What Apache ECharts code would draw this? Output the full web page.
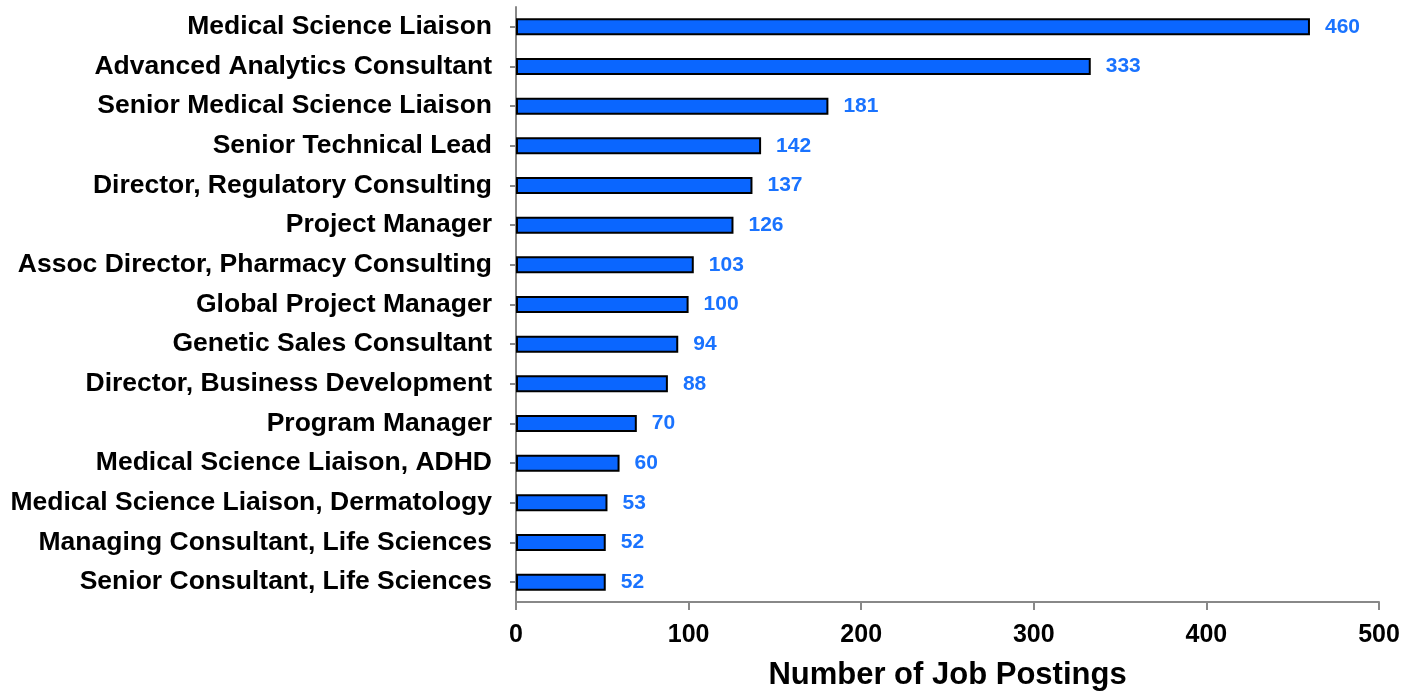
<!DOCTYPE html>
<html lang="en">
<head>
    <meta charset="UTF-8">
    <title>Job Postings</title>
    <style>
        html, body { margin: 0; padding: 0; width: 100%; height: 100%; background: #fff; }
        #chart { width: 1417px; height: 692px; }
    </style>
</head>
<body>
<div id="chart"></div>
<script src="https://cdn.jsdelivr.net/npm/echarts@6/dist/echarts.min.js"></script>
<script type="text/javascript">
    var jobTitles = [
        'Medical Science Liaison',
        'Advanced Analytics Consultant',
        'Senior Medical Science Liaison',
        'Senior Technical Lead',
        'Director, Regulatory Consulting',
        'Project Manager',
        'Assoc Director, Pharmacy Consulting',
        'Global Project Manager',
        'Genetic Sales Consultant',
        'Director, Business Development',
        'Program Manager',
        'Medical Science Liaison, ADHD',
        'Medical Science Liaison, Dermatology',
        'Managing Consultant, Life Sciences',
        'Senior Consultant, Life Sciences'
    ];
    var postings = [460, 333, 181, 142, 137, 126, 103, 100, 94, 88, 70, 60, 53, 52, 52];
    var xTicks = [0, 100, 200, 300, 400, 500];

    var font = '"Liberation Sans", Arial, sans-serif';
    var myChart = echarts.init(document.getElementById('chart'));
    var option = {
        backgroundColor: '#fff',
        animation: false,
        grid: { left: 516, right: 38, top: 7, bottom: 90, containLabel: false, outerBoundsMode: 'none' },
        xAxis: {
            type: 'value',
            min: xTicks[0],
            max: xTicks[xTicks.length - 1],
            interval: 100,
            name: 'Number of Job Postings',
            nameLocation: 'middle',
            nameGap: 58,
            nameTextStyle: { fontFamily: font, fontWeight: 'bold', fontSize: 31, color: '#000' },
            axisLine: { show: true, lineStyle: { color: '#888', width: 2 } },
            axisTick: { show: true, length: 8, lineStyle: { color: '#888', width: 2 } },
            axisLabel: { margin: 21, fontFamily: font, fontWeight: 'bold', fontSize: 25, color: '#000' },
            splitLine: { show: false }
        },
        yAxis: {
            type: 'category',
            inverse: true,
            data: jobTitles,
            axisLine: { show: true, lineStyle: { color: '#888', width: 2 } },
            axisTick: { show: true, alignWithLabel: true, length: 6, lineStyle: { color: '#888', width: 2 } },
            axisLabel: { margin: 24, fontFamily: font, fontWeight: 'bold', fontSize: 26.5, color: '#000' }
        },
        series: [{
            type: 'bar',
            data: postings,
            barWidth: 17,
            itemStyle: { color: '#0a66ff', borderColor: '#000', borderWidth: 2 },
            label: {
                show: true,
                position: 'right',
                distance: 15,
                fontFamily: font,
                fontWeight: 'bold',
                fontSize: 21,
                color: '#1a73ff'
            }
        }]
    };
    myChart.setOption(option, true);
</script>
</body>
</html>
